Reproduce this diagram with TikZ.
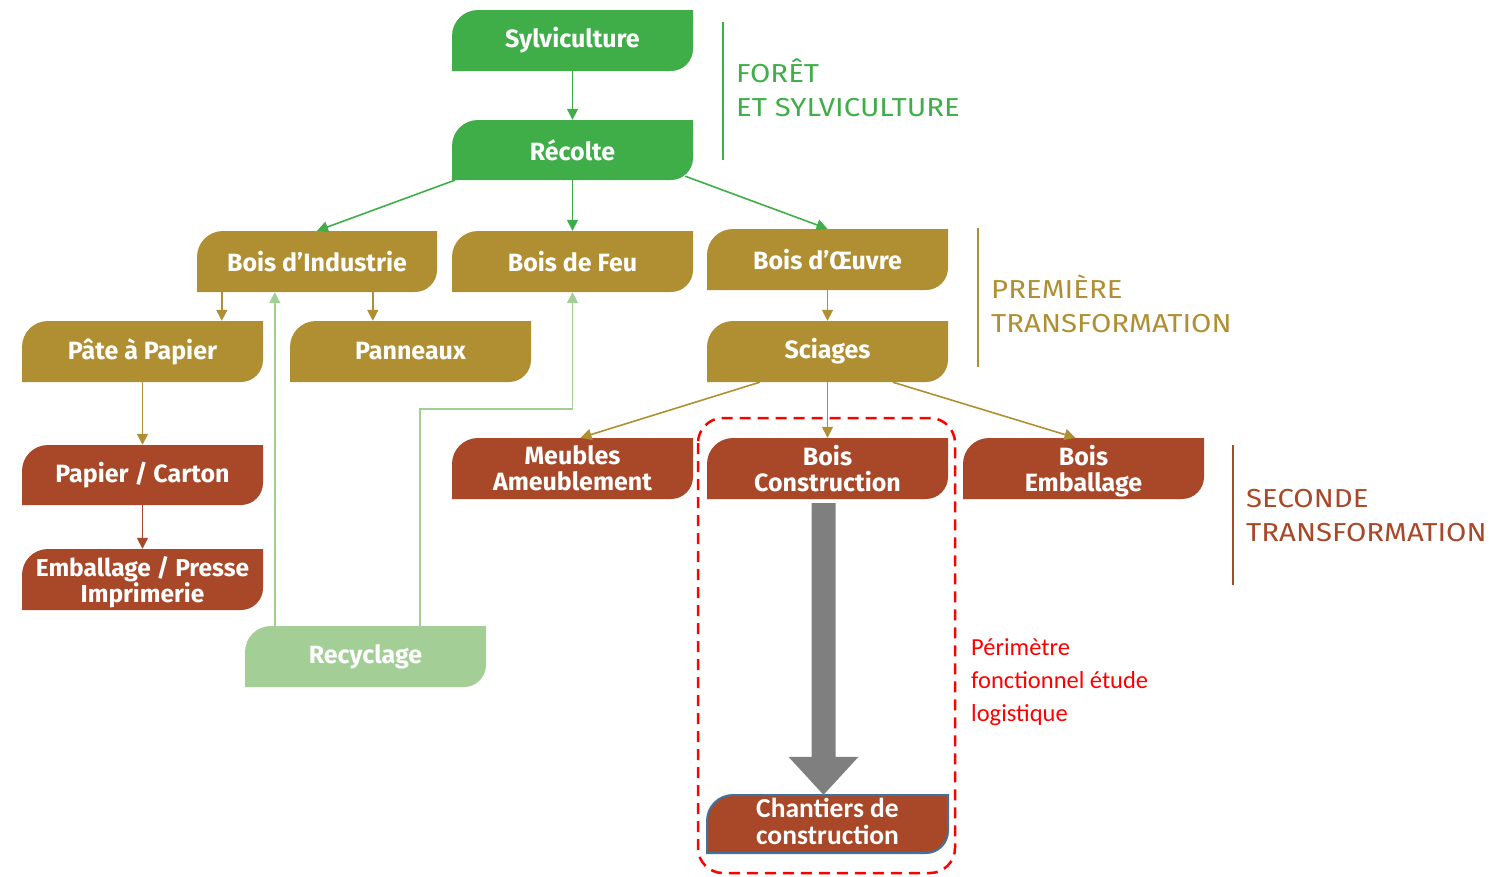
\documentclass[tikz,border=0pt]{standalone}
\usepackage{fontspec}
\setmainfont{Fira Sans}
\newfontfamily\calib{Carlito}
\usetikzlibrary{arrows.meta,calc}
\definecolor{cgreen}{RGB}{63,174,73}
\definecolor{cgold}{RGB}{176,143,51}
\definecolor{crust}{RGB}{168,72,40}
\definecolor{clight}{RGB}{163,207,151}
\definecolor{cgray}{RGB}{127,127,127}
\definecolor{cblue}{RGB}{65,113,156}
\tikzset{
  boxtext/.style={text=white,font=\bfseries\fontsize{25}{26}\selectfont,align=center,inner sep=0pt},
  arr/.style={line width=1.6pt,-{Triangle[length=11pt,width=11pt]}},
  side/.style={anchor=west,inner sep=0pt,font=\fontsize{26}{34}\selectfont},
}
\newcommand\sidetext[1]{\scalebox{1.13}[1]{\begin{tabular}{@{}l@{}}#1\end{tabular}}}
\newcommand\nodepth[1]{\raisebox{0pt}[\height][0pt]{#1}}
% name, x1, ytop, x2, ybottom (pixels, y downwards), path style, node options, text
\newcommand\mybox[8]{%
 \pgfmathsetmacro\bxa{#2}\pgfmathsetmacro\bxb{#4}%
 \pgfmathsetmacro\byt{-(#3)}\pgfmathsetmacro\byb{-(#5)}%
 \path[#6] (\bxa,\byb) -- (\bxa,\byt-26)
   .. controls (\bxa,\byt-11.6) and (\bxa+11.6,\byt) .. (\bxa+26,\byt)
   -- (\bxb,\byt) -- (\bxb,\byb+22)
   .. controls (\bxb,\byb+9.9) and (\bxb-9.9,\byb) .. (\bxb-22,\byb)
   -- cycle;
 \node[boxtext,minimum width={(#4-#2)*1pt},minimum height={(#5-#3)*1pt},#7] (#1) at ({(#2+#4)/2},{-(#3+#5)/2}) {#8};}
\begin{document}
\begin{tikzpicture}[x=1pt,y=1pt]
\useasboundingbox (0,0) rectangle (1494,-876);
\mybox{syl}{452}{10}{693}{71}{fill=cgreen}{}{Sylviculture}
\mybox{rec}{452}{120}{693}{180}{fill=cgreen}{}{Récolte}
\mybox{bi}{197}{231}{437}{292}{fill=cgold}{}{Bois d’Industrie}
\mybox{bf}{452}{231}{693}{292}{fill=cgold}{}{Bois de Feu}
\mybox{bo}{707}{229}{948}{290}{fill=cgold}{}{Bois d’Œuvre}
\mybox{pp}{22}{321}{263}{382}{fill=cgold}{}{Pâte à Papier}
\mybox{pan}{290}{321}{531}{382}{fill=cgold}{}{Panneaux}
\mybox{sc}{707}{321}{948}{382}{fill=cgold}{}{Sciages}
\mybox{pc}{22}{445}{263}{505}{fill=crust}{}{Papier / Carton}
\mybox{emb}{22}{549}{263}{610}{fill=crust}{font=\bfseries\fontsize{24.5}{24}\selectfont}{Emballage / Presse\\\nodepth{Imprimerie}}
\mybox{meu}{452}{438}{693}{499}{fill=crust}{}{Meubles\\Ameublement}
\mybox{bcon}{707}{438}{948}{499}{fill=crust}{}{Bois\\Construction}
\mybox{bemb}{963}{438}{1204}{499}{fill=crust}{}{Bois\\\nodepth{Emballage}}
\mybox{recy}{245}{626}{486}{687}{fill=clight}{}{Recyclage}
\mybox{chan}{707}{795}{948}{853}{fill=crust,draw=cblue,line width=2pt}{font=\calib\bfseries\fontsize{27.5}{27}\selectfont,yshift=2.5pt}{Chantiers de\\construction}

% connectors
\draw[arr,cgreen] (syl) -- (rec);
\draw[arr,cgreen] ([xshift=3pt]rec.south west) -- (bi.north);
\draw[arr,cgreen] (rec) -- (bf);
\draw[arr,cgreen] ([shift={(-8pt,4pt)}]rec.south east) -- (bo.north);
\coordinate (a1) at ([xshift=25pt]bi.south west);
\coordinate (a2) at ([xshift=176pt]bi.south west);
\draw[arr,cgold] (a1) -- (a1 |- pp.north);
\draw[arr,cgold] (a2) -- (a2 |- pan.north);
\draw[arr,cgold] (pp) -- (pc);
\draw[arr,crust] (pc) -- (emb);
\draw[arr,cgold] (bo) -- (sc);
\draw[arr,cgold] ([xshift=53pt]sc.south west) -- ([xshift=8pt]meu.north);
\draw[arr,cgold] (sc) -- (bcon);
\draw[arr,cgold] ([xshift=186pt]sc.south west) -- ([xshift=-8pt]bemb.north);
\coordinate (r1) at ([xshift=30pt]recy.north west);
\coordinate (r2) at ([xshift=175pt]recy.north west);
\coordinate (r3) at ($(bf.south)+(0,-117)$);
\draw[arr,clight] (r1) -- (r1 |- bi.south);
\draw[arr,clight] (r2) |- (r3) -- (bf.south);

% big gray arrow
\coordinate (gt) at ($(bcon.south)+(-4,-4)$);
\coordinate (gb) at ($(chan.north)+(-4,-2.5)$);
\fill[cgray] ($(gt)+(-12,0)$) -- ($(gt)+(12,0)$) -- ($(gb)+(12,38)$) -- ($(gb)+(35,38)$) -- (gb) -- ($(gb)+(-35,38)$) -- ($(gb)+(-12,38)$) -- cycle;

% dashed perimeter
\draw[red,line width=2.5pt,dash pattern=on 11pt off 7pt,rounded corners=25pt] (698,-418) rectangle (955,-873);

% side labels
\draw[cgreen,line width=2pt] (723,-22) -- (723,-160);
\node[side,text=cgreen] (l1) at (736,-93) {\sidetext{FORÊT\\ET SYLVICULTURE}};
\draw[cgold,line width=2pt] (978,-228) -- (978,-367);
\node[side,text=cgold] (l2) at (991,-309) {\sidetext{PREMIÈRE\\TRANSFORMATION}};
\draw[crust,line width=2pt] (1233,-445) -- (1233,-585);
\node[side,text=crust] (l3) at (1246,-518) {\sidetext{SECONDE\\TRANSFORMATION}};

\node[anchor=west,align=left,text=red,inner sep=0pt,font=\calib\fontsize{24.5}{33}\selectfont] (per) at (971,-682.5) {Périmètre\\fonctionnel étude\\logistique};
\end{tikzpicture}
\end{document}
